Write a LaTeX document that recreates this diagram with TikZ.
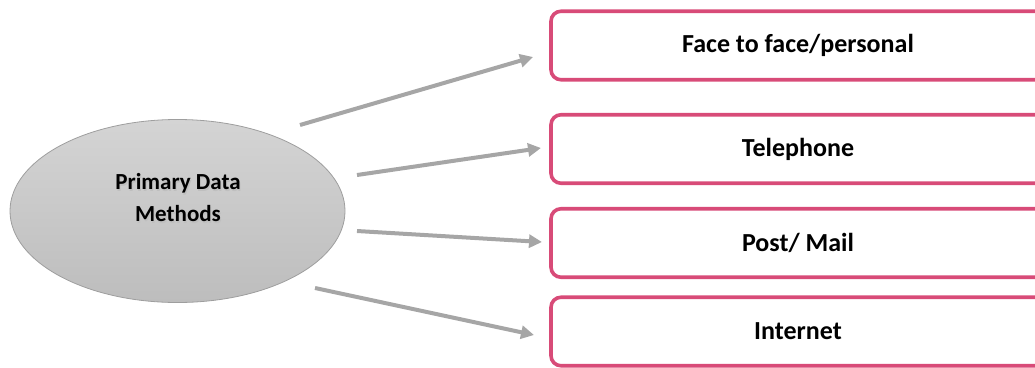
\documentclass[tikz,border=0pt]{standalone}
\usepackage{fontspec}
\setmainfont{Carlito}
\usetikzlibrary{shapes.geometric,arrows.meta}
\definecolor{boxpink}{HTML}{D84B78}
\definecolor{arrgray}{HTML}{A6A6A6}
\definecolor{elltop}{HTML}{D4D4D4}
\definecolor{ellbot}{HTML}{BDBDBD}
\definecolor{ellline}{HTML}{9E9E9E}
\tikzset{
  methodbox/.style={draw=boxpink, line width=3.6pt, rounded corners=10pt, fill=white,
    minimum width=494pt, minimum height=68.5pt, inner sep=0pt,
    font=\fontsize{26}{30}\selectfont\bfseries},
  flowarrow/.style={draw=arrgray, line width=4pt,
    -{Triangle[length=13pt,width=13pt]}},
  ellshape/.style={ellipse, draw=ellline, line width=0.8pt,
    top color=elltop, bottom color=ellbot, minimum width=335pt, minimum height=183pt, inner sep=0pt},
  elltextstyle/.style={align=center, font=\fontsize{23}{32}\selectfont\bfseries},
}
\begin{document}
\begin{tikzpicture}[x=1pt,y=-1pt]
\useasboundingbox (0,0) rectangle (1035,367);
\clip (0,0) rectangle (1035,367);
\node[ellshape] (ell) at (177.5,211) {};
\node[elltextstyle, text=black!25] at (179,199.5) {Primary Data\\Methods};
\node[elltextstyle] (elltext) at (178,198) {Primary Data\\Methods};
\node[methodbox] (b1) at (798,45.5) {Face to face/personal};
\node[methodbox] (b2) at (798,149) {Telephone};
\node[methodbox] (b3) at (798,243) {Post/ Mail};
\node[methodbox] (b4) at (798,331.5) {Internet};
\coordinate (s1) at (300,125);
\coordinate (t1) at (533,57);
\coordinate (s2) at (357,175);
\coordinate (t2) at (541,148);
\coordinate (s3) at (357,231);
\coordinate (t3) at (542,242);
\coordinate (s4) at (315,288);
\coordinate (t4) at (534,335);
\draw[flowarrow] (s1) -- (t1);
\draw[flowarrow] (s2) -- (t2);
\draw[flowarrow] (s3) -- (t3);
\draw[flowarrow] (s4) -- (t4);
\end{tikzpicture}
\end{document}
